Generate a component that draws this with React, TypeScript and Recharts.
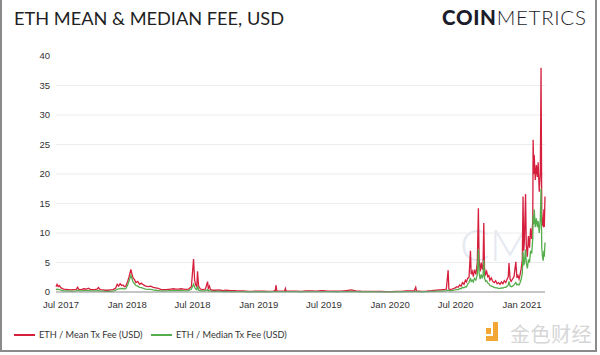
import React from "react";
import { LineChart, Line, XAxis, YAxis, ReferenceLine } from "recharts";

// daily-ish samples (USD)
const dates = [
  // 2017
  "2017-06-17", "2017-06-20", "2017-06-23", "2017-06-26", "2017-07-01", "2017-07-08", "2017-07-15", "2017-07-22",
  "2017-07-29", "2017-08-05", "2017-08-12", "2017-08-16", "2017-08-20", "2017-08-27", "2017-09-03", "2017-09-10",
  "2017-09-15", "2017-09-20", "2017-09-27", "2017-10-04", "2017-10-09", "2017-10-13", "2017-10-18", "2017-10-25",
  "2017-11-01", "2017-11-08", "2017-11-15", "2017-11-22", "2017-11-29", "2017-12-04", "2017-12-08", "2017-12-12",
  "2017-12-16", "2017-12-20", "2017-12-24", "2017-12-28",
  // 2018
  "2018-01-02", "2018-01-06", "2018-01-11", "2018-01-14", "2018-01-17", "2018-01-21", "2018-01-25", "2018-01-30",
  "2018-02-04", "2018-02-09", "2018-02-15", "2018-02-21", "2018-02-28", "2018-03-07", "2018-03-14", "2018-03-21",
  "2018-03-28", "2018-04-04", "2018-04-11", "2018-04-18", "2018-04-25", "2018-05-02", "2018-05-09", "2018-05-16",
  "2018-05-23", "2018-05-30", "2018-06-06", "2018-06-13", "2018-06-20", "2018-06-28", "2018-07-04", "2018-07-07",
  "2018-07-10", "2018-07-13", "2018-07-15", "2018-07-18", "2018-07-23", "2018-07-30", "2018-08-06", "2018-08-12",
  "2018-08-14", "2018-08-17", "2018-08-20", "2018-08-27", "2018-09-03", "2018-09-10", "2018-09-17", "2018-09-24",
  "2018-10-01", "2018-10-08", "2018-10-15", "2018-10-22", "2018-10-29", "2018-11-05", "2018-11-12", "2018-11-19",
  "2018-11-26", "2018-12-03", "2018-12-10", "2018-12-17", "2018-12-24", "2018-12-31",
  // 2019
  "2019-01-14", "2019-01-28", "2019-02-11", "2019-02-16", "2019-02-18", "2019-02-20", "2019-03-04", "2019-03-14",
  "2019-03-16", "2019-03-18", "2019-04-01", "2019-04-15", "2019-04-29", "2019-05-13", "2019-05-27", "2019-06-10",
  "2019-06-24", "2019-07-08", "2019-07-22", "2019-08-05", "2019-08-19", "2019-09-02", "2019-09-14", "2019-09-28",
  "2019-10-12", "2019-10-26", "2019-11-09", "2019-11-23", "2019-12-07", "2019-12-21",
  // 2020 Jan-May
  "2020-01-04", "2020-01-18", "2020-02-01", "2020-02-15", "2020-02-29", "2020-03-08", "2020-03-12", "2020-03-14",
  "2020-03-28", "2020-04-11", "2020-04-25", "2020-05-09", "2020-05-23",
  // 2020 Jun-Dec
  "2020-06-01", "2020-06-05", "2020-06-10", "2020-06-12", "2020-06-16", "2020-06-21", "2020-06-26", "2020-06-30",
  "2020-07-04", "2020-07-08", "2020-07-12", "2020-07-16", "2020-07-20", "2020-07-24", "2020-07-28", "2020-07-31",
  "2020-08-03", "2020-08-07", "2020-08-11", "2020-08-13", "2020-08-16", "2020-08-19", "2020-08-22", "2020-08-26",
  "2020-08-30", "2020-09-02", "2020-09-04", "2020-09-07", "2020-09-10", "2020-09-13", "2020-09-15", "2020-09-17",
  "2020-09-19", "2020-09-22", "2020-09-25", "2020-09-28", "2020-10-01", "2020-10-04", "2020-10-08", "2020-10-12",
  "2020-10-16", "2020-10-20", "2020-10-24", "2020-10-28", "2020-11-01", "2020-11-05", "2020-11-09", "2020-11-13",
  "2020-11-17", "2020-11-21", "2020-11-24", "2020-11-26", "2020-11-29", "2020-12-02", "2020-12-06", "2020-12-10",
  "2020-12-15", "2020-12-18", "2020-12-21", "2020-12-24", "2020-12-27", "2020-12-30",
  // 2021
  "2021-01-02", "2021-01-04", "2021-01-06", "2021-01-08", "2021-01-11", "2021-01-13", "2021-01-16", "2021-01-19",
  "2021-01-22", "2021-01-25", "2021-01-28", "2021-01-31", "2021-02-01", "2021-02-03", "2021-02-04", "2021-02-07",
  "2021-02-10", "2021-02-13", "2021-02-15", "2021-02-18", "2021-02-21", "2021-02-23", "2021-02-25", "2021-02-27",
  "2021-03-01", "2021-03-03", "2021-03-04", "2021-03-06",
];

const meanFee = [
  // 2017
  0.9, 1.3, 0.9, 1.1, 0.7, 0.5, 0.45, 0.4,
  0.35, 0.4, 0.45, 0.8, 0.4, 0.45, 0.55, 0.5,
  0.65, 0.45, 0.4, 0.45, 0.5, 0.75, 0.4, 0.35,
  0.3, 0.3, 0.35, 0.4, 0.6, 1.3, 1.0, 1.4,
  1.1, 1.2, 0.9, 1.0,
  // 2018
  1.8, 2.6, 3.85, 3.0, 2.4, 2.1, 1.6, 1.8,
  1.3, 1.5, 1.2, 1.0, 0.9, 1.0, 0.8, 0.7,
  0.6, 0.45, 0.4, 0.4, 0.45, 0.5, 0.55, 0.5,
  0.5, 0.55, 0.5, 0.45, 0.5, 0.9, 5.6, 2.0,
  1.2, 0.9, 3.5, 1.0, 0.5, 0.4, 0.5, 1.75,
  0.6, 1.0, 0.4, 0.3, 0.3, 0.35, 0.3, 0.25,
  0.3, 0.28, 0.25, 0.25, 0.22, 0.2, 0.2, 0.18,
  0.15, 0.12, 0.12, 0.13, 0.15, 0.14,
  // 2019
  0.14, 0.12, 0.15, 0.3, 1.15, 0.2, 0.15, 0.18,
  0.6, 0.15, 0.15, 0.15, 0.12, 0.18, 0.18, 0.15,
  0.22, 0.18, 0.16, 0.13, 0.15, 0.25, 0.35, 0.2,
  0.13, 0.12, 0.11, 0.1, 0.09, 0.08,
  // 2020 Jan-May
  0.08, 0.1, 0.12, 0.18, 0.17, 0.2, 0.8, 0.2,
  0.1, 0.14, 0.22, 0.32, 0.38,
  // 2020 Jun-Dec
  0.45, 0.5, 3.7, 0.5, 0.45, 0.5, 0.6, 0.7,
  0.9, 0.8, 1.2, 1.0, 1.6, 1.3, 2.0, 1.7,
  2.3, 2.5, 7.0, 3.0, 3.5, 2.6, 3.8, 3.0,
  5.0, 14.2, 5.5, 3.5, 5.0, 3.8, 4.5, 11.7,
  4.0, 3.0, 3.5, 2.6, 2.8, 2.0, 2.4, 1.8,
  1.6, 1.9, 1.4, 1.6, 1.3, 1.7, 1.4, 1.9,
  1.6, 2.2, 2.6, 4.9, 2.2, 1.8, 2.2, 2.6,
  5.1, 2.4, 2.8, 2.2, 3.0, 4.0,
  // 2021
  5.5, 16.2, 7.0, 9.0, 16.6, 8.0, 6.0, 9.5,
  7.5, 10.8, 9.0, 12.0, 25.8, 20.0, 23.2, 19.0,
  21.5, 19.5, 22.0, 17.0, 20.0, 38.0, 13.6, 11.4,
  11.2, 14.0, 11.0, 16.2,
];

const medianFee = [
  // 2017
  0.35, 0.5, 0.4, 0.45, 0.3, 0.2, 0.2, 0.18,
  0.15, 0.15, 0.2, 0.3, 0.18, 0.2, 0.22, 0.22,
  0.25, 0.2, 0.18, 0.18, 0.2, 0.25, 0.15, 0.15,
  0.12, 0.12, 0.13, 0.15, 0.25, 0.5, 0.5, 0.6,
  0.55, 0.6, 0.5, 0.6,
  // 2018
  1.2, 1.9, 2.8, 2.3, 1.7, 1.4, 1.1, 1.0,
  0.8, 0.75, 0.6, 0.5, 0.45, 0.45, 0.35, 0.3,
  0.25, 0.2, 0.18, 0.2, 0.22, 0.25, 0.25, 0.25,
  0.22, 0.25, 0.22, 0.2, 0.25, 0.5, 1.3, 0.8,
  0.5, 0.4, 1.0, 0.35, 0.2, 0.18, 0.2, 0.4,
  0.2, 0.25, 0.15, 0.12, 0.1, 0.12, 0.1, 0.08,
  0.1, 0.08, 0.08, 0.07, 0.07, 0.06, 0.06, 0.05,
  0.04, 0.04, 0.04, 0.04, 0.05, 0.04,
  // 2019
  0.05, 0.04, 0.05, 0.06, 0.1, 0.05, 0.05, 0.05,
  0.07, 0.05, 0.05, 0.05, 0.04, 0.06, 0.06, 0.05,
  0.07, 0.06, 0.05, 0.04, 0.05, 0.07, 0.1, 0.06,
  0.04, 0.04, 0.04, 0.03, 0.03, 0.03,
  // 2020 Jan-May
  0.03, 0.04, 0.04, 0.06, 0.06, 0.06, 0.15, 0.06,
  0.04, 0.05, 0.09, 0.14, 0.16,
  // 2020 Jun-Dec
  0.2, 0.22, 0.3, 0.22, 0.22, 0.25, 0.3, 0.35,
  0.45, 0.4, 0.6, 0.55, 0.8, 0.7, 0.9, 0.85,
  1.3, 1.6, 2.4, 1.8, 2.0, 1.7, 2.3, 2.0,
  3.0, 7.3, 3.2, 2.2, 3.0, 2.3, 2.8, 5.4,
  2.4, 1.8, 1.9, 1.5, 1.4, 1.1, 1.0, 0.9,
  0.8, 0.7, 0.7, 0.6, 0.6, 0.7, 0.65, 0.8,
  0.8, 1.0, 1.2, 1.8, 1.0, 0.9, 1.0, 1.2,
  1.6, 1.2, 1.3, 1.2, 1.6, 2.2,
  // 2021
  3.2, 6.8, 4.5, 5.0, 7.2, 5.0, 4.0, 5.5,
  5.0, 7.0, 6.5, 9.0, 13.0, 11.5, 14.0, 11.0,
  12.5, 11.0, 12.0, 10.0, 12.5, 17.5, 7.5, 6.0,
  5.3, 7.0, 6.0, 8.4,
];

const tickDates = ["2017-07-01", "2018-01-01", "2018-07-01", "2019-01-01", "2019-07-01", "2020-01-01", "2020-07-01", "2021-01-01"];
const tickLabels = ["Jul 2017", "Jan 2018", "Jul 2018", "Jan 2019", "Jul 2019", "Jan 2020", "Jul 2020", "Jan 2021"];
const yTicks = [0, 5, 10, 15, 20, 25, 30, 35, 40];
const gridValues = [5, 10, 15, 20, 25, 30, 35];

const toTs = (d: string) => Date.parse(d + "T00:00:00Z");
const xTicks = tickDates.map(toTs);
const data = dates.map((d, i) => ({ t: toTs(d), mean: meanFee[i], median: medianFee[i] }));

const RED = "#d61f3d";
const GREEN = "#55ad4c";
const tickStyle = { fontSize: 9.5, fill: "#333", fontFamily: "'Liberation Sans', Arial, sans-serif" };

export default function App() {
  return (
    <div
      style={{
        position: "absolute",
        left: 0,
        top: 0,
        width: 597,
        height: 352,
        boxSizing: "border-box",
        borderLeft: "2px solid #8a8a8a",
        borderRight: "2px solid #8a8a8a",
        borderBottom: "2px solid #8a8a8a",
        background: "#fff",
        fontFamily: "Lato, sans-serif",
        overflow: "hidden",
      }}
    >
      <div style={{ position: "absolute", left: 12, top: 7, fontSize: 18.2, color: "#1f1f24", whiteSpace: "nowrap" }}>
        ETH MEAN &amp; MEDIAN FEE, USD
      </div>
      <div style={{ position: "absolute", left: 440, top: 5, fontSize: 20.5, color: "#1c1c2a", whiteSpace: "nowrap", letterSpacing: 0.7 }}>
        <span style={{ fontWeight: 900 }}>COIN</span>
        <span style={{ fontWeight: 300 }}>METRICS</span>
      </div>

      {/* CM watermark behind the series */}
      <div style={{ position: "absolute", left: 458, top: 218, fontSize: 44, fontWeight: 300, color: "#e6e9f1", whiteSpace: "nowrap" }}>
        CM
      </div>

      <div style={{ position: "absolute", left: -2, top: 0 }}>
        <LineChart width={600} height={355} data={data} margin={{ top: 56, right: 55, bottom: 33, left: 0 }}>
          {gridValues.map((v) => (
            <ReferenceLine key={v} y={v} stroke="#ececec" strokeWidth={1} />
          ))}
          <XAxis
            dataKey="t"
            type="number"
            domain={[toTs("2017-06-17"), toTs("2021-03-06")]}
            ticks={xTicks}
            interval={0}
            tickFormatter={(v: number) => tickLabels[xTicks.indexOf(v)] ?? ""}
            tick={tickStyle}
            tickLine={false}
            tickSize={0}
            tickMargin={9}
            axisLine={{ stroke: "#8c8c8c", strokeWidth: 1 }}
            height={30}
          />
          <YAxis
            domain={[0, 40]}
            ticks={yTicks}
            interval={0}
            tick={tickStyle}
            tickLine={false}
            tickSize={0}
            tickMargin={6}
            axisLine={false}
            width={56}
          />
          <Line type="linear" dataKey="mean" stroke={RED} strokeWidth={1.3} dot={false} isAnimationActive={false} />
          <Line type="linear" dataKey="median" stroke={GREEN} strokeWidth={1.3} dot={false} isAnimationActive={false} />
        </LineChart>
      </div>

      {/* legend */}
      <div style={{ position: "absolute", left: 12, top: 329, display: "flex", alignItems: "center", fontSize: 9.2, color: "#333", whiteSpace: "nowrap" }}>
        <span style={{ display: "inline-block", width: 21, height: 2, background: RED, marginRight: 4 }} />
        <span style={{ width: 112 }}>ETH / Mean Tx Fee (USD)</span>
        <span style={{ display: "inline-block", width: 21, height: 2, background: GREEN, marginRight: 4 }} />
        <span>ETH / Median Tx Fee (USD)</span>
      </div>

      {/* source watermark */}
      <div style={{ position: "absolute", left: 484, top: 328, width: 5, height: 6, background: "#f2a733" }} />
      <div style={{ position: "absolute", left: 491, top: 322, width: 5, height: 19, background: "#f2a733" }} />
      <div style={{ position: "absolute", left: 484, top: 336, width: 12, height: 5, background: "#f2a733" }} />
      <div
        style={{
          position: "absolute",
          left: 508,
          top: 319,
          fontSize: 20,
          fontFamily: "'Noto Sans CJK SC', sans-serif",
          color: "#d6d6d6",
          whiteSpace: "nowrap",
          letterSpacing: 0.5,
        }}
      >
        金色财经
      </div>
    </div>
  );
}
